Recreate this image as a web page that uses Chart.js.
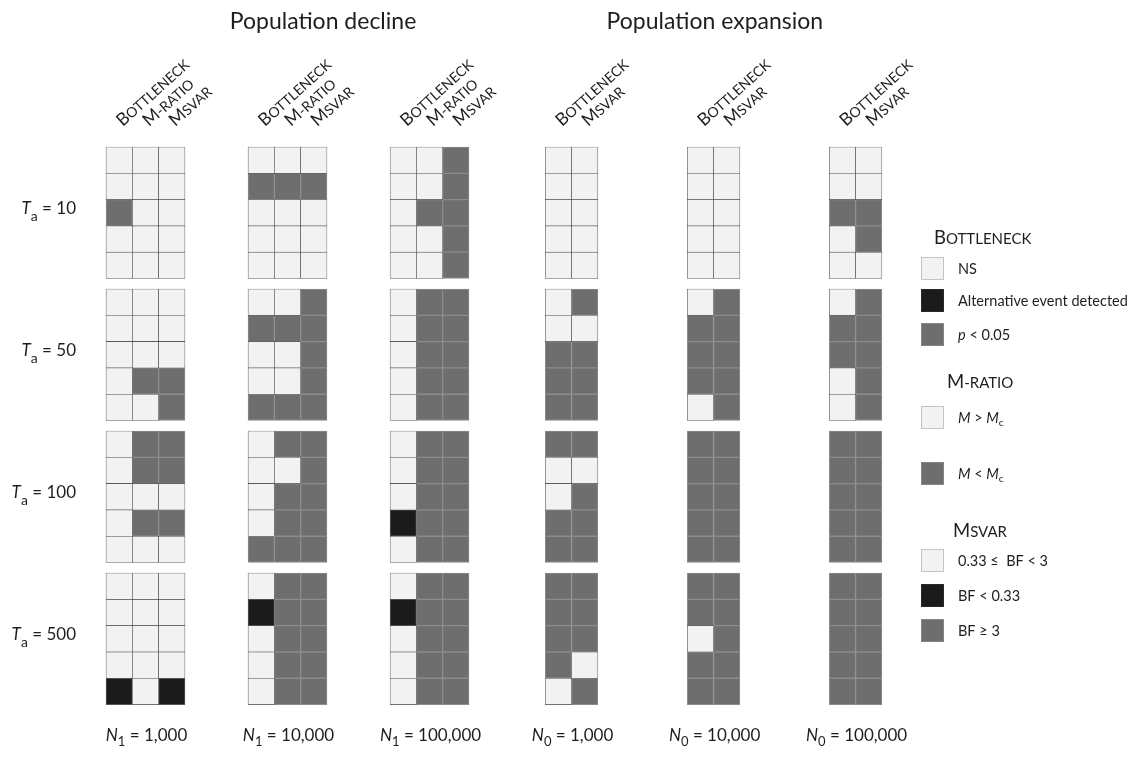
<!DOCTYPE html>
<html>
<head>
<meta charset="utf-8">
<script src="https://cdn.jsdelivr.net/npm/chart.js@4.4.1/dist/chart.umd.min.js"></script>
<style>
  html, body { margin: 0; padding: 0; background: #fff; }
  #wrap { position: relative; width: 1133px; height: 759px; }
</style>
</head>
<body>
<div id="wrap"><canvas id="grid"></canvas></div>
<script>
// outcome codes: 0 = NS / M > Mc / 0.33 <= BF < 3, 1 = alternative event / BF < 0.33, 2 = significant
const taValues = [10, 50, 100, 500];
const scenarios = ['Population decline', 'Population expansion'];
const sizeSymbols = ['1', '1', '1', '0', '0', '0'];
const sizeValues = ['1,000', '10,000', '100,000', '1,000', '10,000', '100,000'];
const declineTests = ['Bottleneck', 'M-ratio', 'Msvar'];
const expansionTests = ['Bottleneck', 'Msvar'];

// each panel: one block of 5 replicate rows per Ta value, columns follow the test list
const declineN1k = [
  [[0, 0, 0], [0, 0, 0], [2, 0, 0], [0, 0, 0], [0, 0, 0]],
  [[0, 0, 0], [0, 0, 0], [0, 0, 0], [0, 2, 2], [0, 0, 2]],
  [[0, 2, 2], [0, 2, 2], [0, 0, 0], [0, 2, 2], [0, 0, 0]],
  [[0, 0, 0], [0, 0, 0], [0, 0, 0], [0, 0, 0], [1, 0, 1]]
];
const declineN10k = [
  [[0, 0, 0], [2, 2, 2], [0, 0, 0], [0, 0, 0], [0, 0, 0]],
  [[0, 0, 2], [2, 2, 2], [0, 0, 2], [0, 0, 2], [2, 2, 2]],
  [[0, 2, 2], [0, 0, 2], [0, 2, 2], [0, 2, 2], [2, 2, 2]],
  [[0, 2, 2], [1, 2, 2], [0, 2, 2], [0, 2, 2], [0, 2, 2]]
];
const declineN100k = [
  [[0, 0, 2], [0, 0, 2], [0, 2, 2], [0, 0, 2], [0, 0, 2]],
  [[0, 2, 2], [0, 2, 2], [0, 2, 2], [0, 2, 2], [0, 2, 2]],
  [[0, 2, 2], [0, 2, 2], [0, 2, 2], [1, 2, 2], [0, 2, 2]],
  [[0, 2, 2], [1, 2, 2], [0, 2, 2], [0, 2, 2], [0, 2, 2]]
];
const expansionN1k = [
  [[0, 0], [0, 0], [0, 0], [0, 0], [0, 0]],
  [[0, 2], [0, 0], [2, 2], [2, 2], [2, 2]],
  [[2, 2], [0, 0], [0, 2], [2, 2], [2, 2]],
  [[2, 2], [2, 2], [2, 2], [2, 0], [0, 2]]
];
const expansionN10k = [
  [[0, 0], [0, 0], [0, 0], [0, 0], [0, 0]],
  [[0, 2], [2, 2], [2, 2], [2, 2], [0, 2]],
  [[2, 2], [2, 2], [2, 2], [2, 2], [2, 2]],
  [[2, 2], [2, 2], [0, 2], [2, 2], [2, 2]]
];
const expansionN100k = [
  [[0, 0], [0, 0], [2, 2], [0, 2], [0, 0]],
  [[0, 2], [2, 2], [2, 2], [0, 2], [0, 2]],
  [[2, 2], [2, 2], [2, 2], [2, 2], [2, 2]],
  [[2, 2], [2, 2], [2, 2], [2, 2], [2, 2]]
];

const panels = [declineN1k, declineN10k, declineN100k, expansionN1k, expansionN10k, expansionN100k];
const panelTests = [declineTests, declineTests, declineTests, expansionTests, expansionTests, expansionTests];

const LIGHT = '#f2f2f2';
const BLACK = '#1b1b1b';
const GREY = '#6e6e6e';
const INK = '#1e1e1e';
const FAM = 'Lato, "Open Sans", "DejaVu Sans", sans-serif';

// layout: one cell = 1 unit, panels and Ta blocks repeat every BLOCK units
const W = 1133, H = 759;
const CELL = 26.3;
const BLOCK = 5.4;
const ORIGIN_X = 145.5, ORIGIN_Y = 147;
const X_MIN = -3.5, X_MAX = 30, Y_MIN = -3, Y_MAX = 22;

function colPos(p, c, n) { return p * BLOCK + c - (n - 1) / 2; }
function rowTop(g, r) { return g * BLOCK + r; }

const cells = [[], [], []];
panels.forEach((blocks, p) => {
  blocks.forEach((rows, g) => {
    rows.forEach((row, r) => {
      row.forEach((code, c) => {
        cells[code].push({ x: colPos(p, c, row.length), y: [rowTop(g, r), rowTop(g, r) + 1] });
      });
    });
  });
});

function runsWidth(ctx, runs) {
  let w = 0;
  runs.forEach(r => { ctx.font = r.font; w += ctx.measureText(r.text).width; });
  return w;
}

function drawRuns(ctx, runs, x, y, align) {
  const w = runsWidth(ctx, runs);
  let cx = align === 'right' ? x - w : align === 'center' ? x - w / 2 : x;
  runs.forEach(r => {
    ctx.font = r.font;
    ctx.fillText(r.text, cx, y + (r.dy || 0));
    cx += ctx.measureText(r.text).width;
  });
}

// small caps look: first letter full size, rest upper case smaller
function capsRuns(word, big, small) {
  return [
    { text: word[0], font: big + 'px ' + FAM },
    { text: word.slice(1).toUpperCase(), font: small + 'px ' + FAM }
  ];
}

function swatch(ctx, x, y, code) {
  const fill = [LIGHT, BLACK, GREY][code];
  const edge = ['#c4c4c4', '#2a2a2a', '#858585'][code];
  ctx.fillStyle = edge;
  ctx.fillRect(x, y, 23, 23);
  ctx.fillStyle = fill;
  ctx.fillRect(x + 1, y + 1, 21, 21);
  ctx.fillStyle = INK;
}

const labelsPlugin = {
  id: 'labels',
  afterDraw(chart) {
    const ctx = chart.ctx;
    const xs = chart.scales.x, ys = chart.scales.y;
    const f17 = '17px ' + FAM, i17 = 'italic 17px ' + FAM, s13 = '13px ' + FAM;
    ctx.save();
    ctx.fillStyle = INK;
    ctx.textAlign = 'left';
    ctx.textBaseline = 'alphabetic';

    // scenario titles
    ctx.font = '23px ' + FAM;
    ctx.textAlign = 'center';
    ctx.fillText(scenarios[0], xs.getPixelForValue(6.75), 29);
    ctx.fillText(scenarios[1], xs.getPixelForValue(4 * BLOCK + 0.05), 29);
    ctx.textAlign = 'left';

    // rotated test names over each column
    const headY = ys.getPixelForValue(0) - 20;
    panelTests.forEach((tests, p) => {
      tests.forEach((name, c) => {
        ctx.save();
        ctx.translate(xs.getPixelForValue(colPos(p, c, tests.length)) + 3.5, headY);
        ctx.rotate(-42 * Math.PI / 180);
        drawRuns(ctx, capsRuns(name, 17.5, 14), 0, 0, 'left');
        ctx.restore();
      });
    });

    // Ta labels
    taValues.forEach((ta, g) => {
      const y = ys.getPixelForValue(rowTop(g, 2.5)) + 1.5;
      drawRuns(ctx, [
        { text: 'T', font: i17 },
        { text: 'a', font: '14px ' + FAM, dy: 7 },
        { text: ' = ' + ta, font: f17 }
      ], 76, y, 'right');
    });

    // population size labels
    const baseY = ys.getPixelForValue(rowTop(3, 5)) + 36;
    sizeValues.forEach((v, p) => {
      drawRuns(ctx, [
        { text: 'N', font: i17 },
        { text: sizeSymbols[p], font: s13, dy: 5 },
        { text: ' = ' + v, font: f17 }
      ], xs.getPixelForValue(p * BLOCK) + 1, baseY, 'center');
    });

    // key
    const t = '14.5px ' + FAM, it = 'italic 14.5px ' + FAM, sub = '10px ' + FAM;
    const sx = 921, tx = 958;
    drawRuns(ctx, capsRuns('Bottleneck', 18.5, 15), 934, 244, 'left');
    [
      [0, 257, [{ text: 'NS', font: t }]],
      [1, 289, [{ text: 'Alternative event detected', font: t }]],
      [2, 323, [{ text: 'p', font: it }, { text: ' < 0.05', font: t }]]
    ].concat([
      [0, 406, [{ text: 'M', font: it }, { text: ' > ', font: t }, { text: 'M', font: it }, { text: 'c', font: sub, dy: 3 }]],
      [2, 462, [{ text: 'M', font: it }, { text: ' < ', font: t }, { text: 'M', font: it }, { text: 'c', font: sub, dy: 3 }]]
    ]).concat([
      [0, 549, [{ text: '0.33 \u2264  BF < 3', font: t }]],
      [1, 584, [{ text: 'BF < 0.33', font: t }]],
      [2, 619, [{ text: 'BF \u2265 3', font: t }]]
    ]).forEach(([code, y, runs]) => {
      swatch(ctx, sx, y, code);
      drawRuns(ctx, runs, tx, y + 16.5, 'left');
    });
    drawRuns(ctx, capsRuns('M-ratio', 18.5, 15), 947, 388, 'left');
    drawRuns(ctx, capsRuns('Msvar', 18.5, 15), 953, 537, 'left');

    ctx.restore();
  }
};

const barStyle = { grouped: false, categoryPercentage: 1, barPercentage: 1, borderSkipped: false };

new Chart(document.getElementById('grid').getContext('2d'), {
  type: 'bar',
  data: {
    datasets: [
      Object.assign({ label: 'NS', data: cells[0], backgroundColor: LIGHT, borderColor: '#474747', borderWidth: 0.6 }, barStyle),
      Object.assign({ label: 'Alternative', data: cells[1], backgroundColor: BLACK, borderColor: '#555555', borderWidth: 1 }, barStyle),
      Object.assign({ label: 'Significant', data: cells[2], backgroundColor: GREY, borderColor: '#8c8c8c', borderWidth: 1 }, barStyle)
    ]
  },
  options: {
    responsive: true,
    maintainAspectRatio: false,
    animation: false,
    events: [],
    layout: {
      padding: {
        left: ORIGIN_X + X_MIN * CELL,
        right: W - (ORIGIN_X + X_MAX * CELL),
        top: ORIGIN_Y + Y_MIN * CELL,
        bottom: H - (ORIGIN_Y + Y_MAX * CELL)
      }
    },
    scales: {
      x: { type: 'linear', min: X_MIN, max: X_MAX, offset: false, display: false, ticks: { stepSize: 10 } },
      y: { type: 'linear', min: Y_MIN, max: Y_MAX, reverse: true, display: false }
    },
    plugins: {
      legend: { display: false },
      tooltip: { enabled: false }
    }
  },
  plugins: [labelsPlugin]
});
</script>
</body>
</html>
